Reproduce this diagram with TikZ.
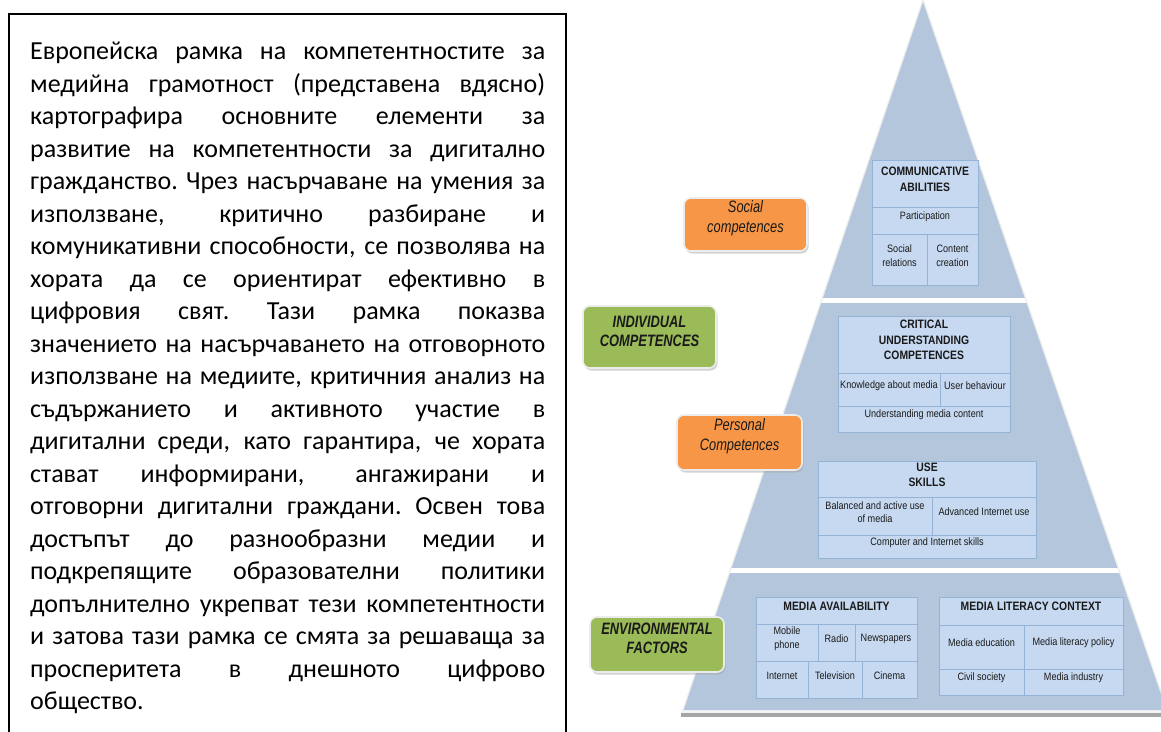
\documentclass[tikz,border=0pt]{standalone}
\usepackage{fontspec}
\setmainfont{Carlito}
\newfontfamily\pyrfont{Liberation Sans}[FakeStretch=0.85]
\newfontfamily\tagfont{Liberation Sans}[FakeStretch=0.78]
\usepackage{tikz}
\usetikzlibrary{fit,shadows}
\definecolor{pyr}{HTML}{B3C6DB}
\definecolor{cellfill}{HTML}{C6D9F1}
\definecolor{cellline}{HTML}{95B3D7}
\definecolor{orangetag}{HTML}{F79646}
\definecolor{greentag}{HTML}{9BBB59}
\definecolor{ink}{HTML}{1A1A1A}
\definecolor{basegray}{HTML}{A6A6A6}
\newcommand{\jline}[1]{\makebox[515pt][s]{\spaceskip=0.23em plus 3em minus 0.1em\xspaceskip=\spaceskip #1}\\}
\tikzset{
  pcell/.style={rectangle, draw=cellline, fill=cellfill, line width=1pt,
                inner sep=0pt, align=center, text=ink,
                font=\pyrfont\fontsize{10.7}{13.5}\selectfont},
  phead/.style={pcell, font=\pyrfont\bfseries\fontsize{12.2}{15.5}\selectfont},
  tagbox/.style={rectangle, rounded corners=7pt, draw=white!85!gray,
                 line width=1.6pt, inner sep=0pt, align=center, text=ink,
                 drop shadow={shadow xshift=1.5pt, shadow yshift=-2.5pt, fill=black!35}},
  softtag/.style={tagbox, fill=orangetag, font=\tagfont\itshape\fontsize{16.5}{20}\selectfont},
  boldtag/.style={tagbox, fill=greentag, font=\tagfont\bfseries\itshape\fontsize{16.5}{19}\selectfont}
}

\begin{document}
\begin{tikzpicture}[x=1pt, y=-1pt]
  \useasboundingbox (0,0) rectangle (1161,731);

  % text frame, open at the bottom
  \draw[line width=1.5pt] (9,745) -- (9,14) -- (566,14) -- (566,745);
  \node[anchor=north west, inner sep=0pt, text width=515pt, align=left,
        font=\fontsize{26}{32.5}\selectfont] (txt) at (30,42) {%
    \jline{Европейска рамка на компетентностите за}
    \jline{медийна грамотност (представена вдясно)}
    \jline{картографира основните елементи за}
    \jline{развитие на компетентности за дигитално}
    \jline{гражданство. Чрез насърчаване на умения за}
    \jline{използване, критично разбиране и}
    \jline{комуникативни способности, се позволява на}
    \jline{хората да се ориентират ефективно в}
    \jline{цифровия свят. Тази рамка показва}
    \jline{значението на насърчаването на отговорното}
    \jline{използване на медиите, критичния анализ на}
    \jline{съдържанието и активното участие в}
    \jline{дигитални среди, като гарантира, че хората}
    \jline{стават информирани, ангажирани и}
    \jline{отговорни дигитални граждани. Освен това}
    \jline{достъпът до разнообразни медии и}
    \jline{подкрепящите образователни политики}
    \jline{допълнително укрепват тези компетентности}
    \jline{и затова тази рамка се смята за решаваща за}
    \jline{просперитета в днешното цифрово}
    общество.};

  % pyramid
  \fill[white!92!gray] (681,709) rectangle (1170,713);
  \fill[basegray] (681,713) rectangle (1170,716.5);
  \fill[pyr] (923,0) -- (1167,710) -- (683,710) -- cycle;
  \begin{scope}
    \clip (923,0) -- (1167,710) -- (683,710) -- cycle;
    \fill[white] (600,298) rectangle (1200,302.5);
    \fill[white] (600,567.5) rectangle (1200,572.5);
  \end{scope}
  \draw[white!85!gray, line width=1.2pt] (683,710) -- (923,0) -- (1167,710);

  \node[phead, fit={(872,160) (978,207)}] (comm) {COMMUNICATIVE\\ABILITIES};
  \node[pcell, fit={(872,207) (978,234)}] (part) {Participation};
  \node[pcell, fit={(872,234) (927,285)}] (socrel) {Social\\relations};
  \node[pcell, fit={(927,234) (978,285)}] (create) {Content\\creation};

  \node[phead, fit={(838,316) (1010,373)}] (crit) {CRITICAL\\UNDERSTANDING\\COMPETENCES};
  \node[pcell, fit={(838,373) (940,406)}] (know) {Knowledge about media};
  \node[pcell, fit={(940,373) (1010,406)}] (behav) {User behaviour};
  \node[pcell, fit={(838,406) (1010,432)}] (content) {Understanding media content};

  \node[phead, fit={(818,461) (1036,497)}] (use) {USE\\SKILLS};
  \node[pcell, fit={(818,497) (932,535)}] (balance) {Balanced and active use\\of media};
  \node[pcell, fit={(932,497) (1036,535)}] (advanced) {Advanced Internet use};
  \node[pcell, fit={(818,535) (1036,558)}] (basic) {Computer and Internet skills};

  \node[phead, fit={(756,597) (917,624)}] (avail) {MEDIA AVAILABILITY};
  \node[pcell, fit={(756,624) (818,661)}] (mobile) {Mobile\\phone};
  \node[pcell, fit={(818,624) (855,661)}] (radio) {Radio};
  \node[pcell, fit={(855,624) (917,661)}] (press) {Newspapers};
  \node[pcell, fit={(756,661) (808,698)}] (net) {Internet};
  \node[pcell, fit={(808,661) (862,698)}] (tv) {Television};
  \node[pcell, fit={(862,661) (917,698)}] (cinema) {Cinema};

  \node[phead, fit={(939,597) (1123,625)}] (context) {MEDIA LITERACY CONTEXT};
  \node[pcell, fit={(939,625) (1024,669)}] (edu) {Media education};
  \node[pcell, fit={(1024,625) (1123,669)}] (policy) {Media literacy policy};
  \node[pcell, fit={(939,669) (1024,695)}] (civil) {Civil society};
  \node[pcell, fit={(1024,669) (1123,695)}] (industry) {Media industry};

  % side labels
  \node[softtag, fit={(684,198) (807,251)}] (social) {\rule{0pt}{24pt}Social\\competences};
  \node[boldtag, fit={(583,306) (716,368)}] (individual) {INDIVIDUAL\\COMPETENCES};
  \node[softtag, fit={(677,415) (802,470)}] (personal) {Personal\\Competences};
  \node[boldtag, fit={(590,617) (724,672)}] (environment) {\rule{0pt}{17pt}ENVIRONMENTAL\\FACTORS};
\end{tikzpicture}
\end{document}
